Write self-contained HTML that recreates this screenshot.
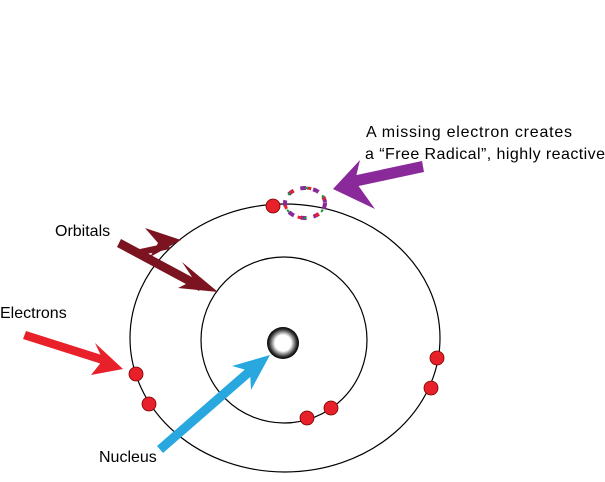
<!DOCTYPE html>
<html><head><style>body{margin:0;background:#fff}svg{display:block}</style></head><body>
<svg width="605" height="482" xmlns="http://www.w3.org/2000/svg" font-family="Liberation Sans, sans-serif" font-size="16">
<defs>
<radialGradient id="g" cx="50%" cy="50%" r="50%"><stop offset="0.5" stop-color="#fff"/><stop offset="0.85" stop-color="#333"/><stop offset="1" stop-color="#000"/></radialGradient>
</defs>
<ellipse cx="285" cy="338" rx="155" ry="134" fill="none" stroke="#000" stroke-width="1.2"/>
<circle cx="284" cy="340" r="83" fill="none" stroke="#000" stroke-width="1.2"/>
<circle cx="283" cy="343" r="16" fill="url(#g)"/>
<g fill="#e8202a" stroke="#7a0000" stroke-width="0.8">
<circle cx="273" cy="206" r="7"/><circle cx="136" cy="374" r="7"/><circle cx="149" cy="404" r="7"/>
<circle cx="307" cy="418" r="7"/><circle cx="331" cy="408" r="7"/><circle cx="437" cy="358" r="7"/><circle cx="431" cy="388" r="7"/>
</g>
<ellipse cx="305" cy="203" rx="20" ry="15" fill="none" stroke="#8a2a9a" stroke-width="4" stroke-dasharray="6 7"/>
<ellipse cx="305" cy="203" rx="20" ry="15" fill="none" stroke="#e8202a" stroke-width="3" stroke-dasharray="4 14" stroke-dashoffset="5"/>
<ellipse cx="305" cy="203" rx="20" ry="15" fill="none" stroke="#1a9a3a" stroke-width="2" stroke-dasharray="3 16" stroke-dashoffset="12"/>
<g fill="#7b1420">
<path d="M121,239 L203,283 L199,291 L117,247Z"/>
<path d="M218,292 L182,262 L194,280 L178,288Z"/>
<path d="M140,249 L168,243 L170,249 L142,255Z"/>
<path d="M181,240 L145,228 L158,243 L150,257Z"/>
</g>
<g fill="#e8202a"><path d="M26,331 L108,357 L105,365 L23,339Z"/><path d="M123,369 L95,343 L103,360 L91,375Z"/></g>
<g fill="#29a8e0"><path d="M157,446 L250,365 L256,372 L163,453Z"/><path d="M270,355 L232,366 L250,371 L251,390Z"/></g>
<g fill="#8a2a9a"><path d="M422,161 L352,176 L354,187 L424,172Z"/><path d="M333,189 L360,160 L355,181 L375,209Z"/></g>
<text x="55" y="236">Orbitals</text>
<text x="0" y="318">Electrons</text>
<text x="99" y="462">Nucleus</text>
<text x="366" y="137" textLength="206">A missing electron creates</text>
<text x="365" y="159" textLength="240">a “Free Radical”, highly reactive</text>
</svg>
</body></html>
